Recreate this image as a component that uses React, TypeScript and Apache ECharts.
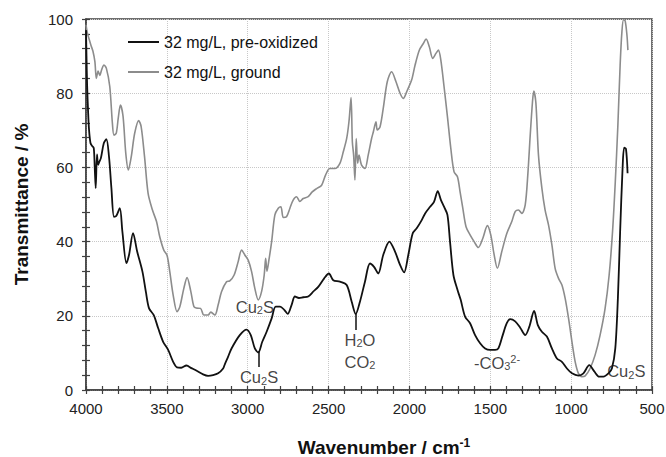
import React, { useEffect, useRef } from "react";
import * as echarts from "echarts";

// Wavenumber tick settings
const xTicks = { min: 500, max: 4000, interval: 500 };
const yTicks = { min: 0, max: 100, interval: 20 };

const seriesNames = ["32 mg/L, pre-oxidized", "32 mg/L, ground"];

// Pre-oxidized (black) spectrum
const blackWn = [4000, 3997, 3993, 3987, 3981, 3972, 3962, 3952, 3946, 3940, 3932, 3925, 3918, 3908, 3890, 3874, 3858, 3843, 3827, 3813, 3791, 3775, 3750, 3734, 3709, 3684, 3651, 3630, 3610, 3581, 3554, 3523, 3492, 3461, 3437, 3411, 3379, 3348, 3313, 3276, 3245, 3214, 3183, 3152, 3141, 3121, 3100, 3049, 3007, 2981, 2956, 2935, 2910, 2883, 2852, 2827, 2800, 2774, 2753, 2729, 2708, 2683, 2657, 2626, 2595, 2564, 2527, 2498, 2471, 2430, 2388, 2357, 2332, 2306, 2275, 2244, 2219, 2193, 2162, 2124, 2089, 2058, 2033, 2007, 1980, 1955, 1924, 1903, 1872, 1848, 1825, 1805, 1786, 1765, 1749, 1728, 1703, 1683, 1656, 1625, 1594, 1563, 1532, 1501, 1470, 1450, 1423, 1398, 1377, 1346, 1315, 1284, 1259, 1229, 1206, 1181, 1150, 1119, 1088, 1057, 1026, 995, 955, 924, 888, 857, 826, 800, 769, 748, 727, 711, 697, 682, 672, 661, 651];
const blackT = [97, 90, 82, 75, 70, 66.5, 65.8, 65.2, 60, 54.4, 63.5, 60.7, 61.5, 62.5, 66.5, 67.6, 63, 54.5, 46.7, 46.9, 49, 42.7, 34.2, 36.4, 42.3, 37.4, 31.9, 26.5, 22, 20.2, 16.7, 13, 10.8, 7.6, 6.1, 6, 6.6, 5.9, 5.1, 4.2, 3.8, 4, 4.5, 5.8, 7, 9, 11.2, 14.8, 16.3, 14.8, 11.2, 10.1, 13, 15.7, 19.3, 22.5, 22.5, 21.6, 20.5, 22.9, 25.2, 24.8, 25, 25.2, 26.5, 27.8, 30.1, 31.4, 29.6, 29.2, 28.3, 23.8, 20.5, 23.8, 29.2, 34.1, 33.2, 31.4, 36.4, 40, 37.3, 33.7, 31.7, 36.4, 42.2, 43.6, 45.8, 47.6, 49.4, 50.7, 53.6, 51.2, 49.4, 47.2, 40, 31, 27, 24.3, 19.8, 18, 14.8, 12.6, 11.2, 10.8, 10.8, 11.2, 14.8, 18, 19.1, 18.5, 16.8, 14.8, 17, 21.3, 17.5, 15.7, 14.4, 11.2, 8.5, 7.6, 5.8, 4.5, 3.9, 4.5, 6.7, 5, 3.6, 3.6, 4.5, 5.8, 11.2, 24.7, 42.7, 59.7, 65.3, 65, 58.4];

// Ground (gray) spectrum
const grayWn = [4000, 3993, 3985, 3970, 3957, 3945, 3936, 3925, 3915, 3902, 3889, 3874, 3853, 3837, 3827, 3813, 3800, 3787, 3771, 3754, 3738, 3720, 3699, 3674, 3659, 3638, 3616, 3589, 3564, 3544, 3519, 3499, 3482, 3461, 3437, 3420, 3395, 3375, 3352, 3333, 3318, 3292, 3271, 3245, 3228, 3203, 3183, 3162, 3131, 3111, 3084, 3059, 3038, 3018, 2997, 2976, 2956, 2935, 2914, 2898, 2889, 2881, 2869, 2852, 2832, 2811, 2795, 2780, 2760, 2739, 2719, 2698, 2677, 2657, 2626, 2601, 2574, 2543, 2518, 2492, 2461, 2430, 2409, 2388, 2374, 2361, 2353, 2345, 2337, 2329, 2320, 2312, 2296, 2275, 2255, 2234, 2223, 2207, 2199, 2182, 2162, 2137, 2110, 2083, 2058, 2038, 2013, 1986, 1965, 1939, 1914, 1897, 1877, 1856, 1835, 1821, 1806, 1786, 1765, 1744, 1724, 1703, 1687, 1670, 1650, 1625, 1600, 1574, 1546, 1518, 1497, 1476, 1456, 1429, 1398, 1367, 1346, 1326, 1305, 1284, 1268, 1253, 1239, 1231, 1218, 1202, 1181, 1161, 1140, 1119, 1099, 1078, 1057, 1037, 1016, 995, 975, 955, 934, 913, 883, 852, 821, 790, 765, 744, 727, 711, 697, 686, 676, 666, 655, 649];
const grayT = [98.5, 96.5, 95.2, 93, 91.3, 88.5, 84, 86, 84.8, 86.5, 87.6, 86.7, 81.8, 72, 68.7, 69.2, 73.5, 76.8, 73.8, 63.8, 59.3, 62.9, 69.2, 72.6, 71, 62.9, 53, 48.5, 45.4, 41.3, 37.7, 36.3, 31.9, 25.6, 21.1, 22.4, 27.4, 30.3, 26.6, 22.5, 22.1, 22, 20.2, 20.2, 21, 20.2, 22.9, 26.5, 29.2, 29.4, 31, 34.6, 37.7, 36.4, 35, 31.9, 27.4, 24.3, 26.6, 31, 35.5, 32, 35, 40, 47.2, 49, 49.4, 46.5, 46.7, 49, 51.2, 52.1, 50.8, 51.6, 52.1, 53.4, 54.3, 55.2, 58, 59.7, 59.7, 61.1, 64.2, 67.8, 72.3, 78.8, 66.9, 63.3, 56.6, 67.8, 61.1, 63.3, 60.6, 59.7, 63.3, 67.8, 69.6, 72.3, 70.1, 70.9, 75.9, 83.1, 85.8, 83.1, 80, 78.6, 80.8, 83.6, 87.6, 91.6, 93.4, 94.6, 92.5, 89.4, 90.8, 91.6, 89, 81.8, 73.7, 65.1, 58.8, 57.5, 53.5, 49, 44, 41.8, 40, 38.4, 40.9, 44.3, 41.8, 36.4, 32.8, 37.3, 42.2, 45.4, 48.1, 48.5, 47.6, 49.9, 58, 68.7, 77.7, 80.6, 77.4, 63.3, 54.4, 48.5, 44.5, 39.1, 32.8, 30.1, 28.3, 24.7, 19.3, 13, 7.6, 4.5, 3.6, 3.8, 5.8, 9.4, 14.8, 22, 31, 42.7, 56.1, 71.4, 87.6, 96.6, 99.8, 99.5, 95.7, 91.6];

// Peak annotations: [wavenumber, transmittance, rich text]
const annotations: [number, number, string][] = [
  [2956, 22.4, "Cu{sub|2}S"],
  [2930, 3.4, "Cu{sub|2}S"],
  [2306, 13.6, "H{sub|2}O"],
  [2306, 7.6, "CO{sub|2}"],
  [1458, 7.4, "-CO{sub|3}{sup|2-}"],
  [659, 5.1, "Cu{sub|2}S"],
];

// Leader lines: [wavenumber, from, to]
const leaders: [number, number, number][] = [
  [2930, 10.5, 6.2],
  [2333, 20.6, 16.2],
];

const FONT = 'Arial, "Liberation Sans", Helvetica, sans-serif';
const AXIS = "#404040";

export default function App() {
  const ref = useRef<HTMLDivElement>(null);
  useEffect(() => {
    if (!ref.current) return;
    const chart = echarts.init(ref.current, undefined, { renderer: "svg" });
    const black = blackWn.map((w, i) => [w, blackT[i]]);
    const gray = grayWn.map((w, i) => [w, grayT[i]]);
    const rich = {
      sub: { fontSize: 11, fontFamily: FONT, color: "#111", verticalAlign: "bottom", lineHeight: 11 },
      sup: { fontSize: 11, fontFamily: FONT, color: "#111", verticalAlign: "top", lineHeight: 11 },
    };
    const baseX = {
      type: "value",
      min: xTicks.min,
      max: xTicks.max,
      interval: xTicks.interval,
      inverse: true,
      position: "bottom",
      gridIndex: 0,
    };
    const baseY = {
      type: "value",
      min: yTicks.min,
      max: yTicks.max,
      interval: yTicks.interval,
      position: "left",
      gridIndex: 0,
    };
    chart.setOption({
      animation: false,
      backgroundColor: "#fff",
      grid: {
        left: 86,
        right: 14,
        top: 19,
        bottom: 67,
        containLabel: false,
        outerBoundsMode: "none",
        show: true,
        borderColor: AXIS,
        borderWidth: 1.5,
        backgroundColor: "transparent",
      },
      legend: {
        data: seriesNames.map((n) => ({ name: n, icon: "rect" })),
        orient: "vertical",
        left: 128,
        top: 34,
        padding: 0,
        itemWidth: 31,
        itemHeight: 2,
        itemGap: 14,
        textStyle: { fontSize: 16, fontFamily: FONT, color: "#111", lineHeight: 16 },
      },
      xAxis: [
        {
          ...baseX,
          name: "Wavenumber / cm{sup|-1}",
          nameLocation: "middle",
          nameGap: 47,
          nameTextStyle: {
            fontSize: 19,
            fontWeight: "bold",
            fontFamily: FONT,
            color: "#111",
            lineHeight: 20,
            padding: [0, 0, 0, 30],
            rich: {
              sup: { fontSize: 12, fontWeight: "bold", fontFamily: FONT, color: "#111", verticalAlign: "top", lineHeight: 12 },
            },
          },
          axisLine: { show: true, onZero: false, lineStyle: { color: AXIS, width: 1.5 } },
          axisTick: { show: true, length: 4, lineStyle: { color: AXIS, width: 1.2 } },
          minorTick: { show: true, splitNumber: 5, length: 4, lineStyle: { color: AXIS, width: 1.2 } },
          axisLabel: { fontSize: 15, fontFamily: FONT, color: "#222", margin: 11, formatter: (v: number) => String(v) },
          splitLine: { show: true, lineStyle: { color: "#c8c8c8", type: "dotted", width: 1 } },
        },
        {
          ...baseX,
          axisLine: { show: false, onZero: false },
          axisTick: { show: true, inside: true, length: 4, lineStyle: { color: AXIS, width: 1.2 } },
          minorTick: { show: true, splitNumber: 5, length: 4, lineStyle: { color: AXIS, width: 1.2 } },
          axisLabel: { show: false },
          splitLine: { show: false },
        },
      ],
      yAxis: [
        {
          ...baseY,
          name: "Transmittance / %",
          nameLocation: "middle",
          nameGap: 55,
          nameTextStyle: { fontSize: 19, fontWeight: "bold", fontFamily: FONT, color: "#111", lineHeight: 20 },
          axisLine: { show: true, onZero: false, lineStyle: { color: AXIS, width: 1.5 } },
          axisTick: { show: true, length: 4, lineStyle: { color: AXIS, width: 1.2 } },
          minorTick: { show: true, splitNumber: 5, length: 4, lineStyle: { color: AXIS, width: 1.2 } },
          axisLabel: { fontSize: 15, fontFamily: FONT, color: "#222", margin: 13, formatter: (v: number) => String(v) },
          splitLine: { show: true, lineStyle: { color: "#c8c8c8", type: "dotted", width: 1 } },
        },
        {
          ...baseY,
          axisLine: { show: false, onZero: false },
          axisTick: { show: true, inside: true, length: 4, lineStyle: { color: AXIS, width: 1.2 } },
          minorTick: { show: true, splitNumber: 5, length: 4, lineStyle: { color: AXIS, width: 1.2 } },
          axisLabel: { show: false },
          splitLine: { show: false },
        },
      ],
      series: [
        {
          name: seriesNames[1],
          type: "line",
          xAxisIndex: 0,
          yAxisIndex: 0,
          data: gray,
          symbol: "none",
          smooth: 0.3,
          lineStyle: { color: "#8c8c8c", width: 1.6 },
          itemStyle: { color: "#8c8c8c" },
          z: 2,
        },
        {
          name: seriesNames[0],
          type: "line",
          xAxisIndex: 0,
          yAxisIndex: 0,
          data: black,
          symbol: "none",
          smooth: 0.3,
          lineStyle: { color: "#111", width: 1.8 },
          itemStyle: { color: "#111" },
          z: 3,
          markLine: {
            silent: true,
            symbol: ["none", "none"],
            label: { show: false },
            lineStyle: { color: "#111", width: 1.5, type: "solid" },
            data: leaders.map(([w, a, b]) => [{ coord: [w, a] }, { coord: [w, b] }]),
          },
        },
        {
          name: "annotations",
          type: "scatter",
          xAxisIndex: 0,
          yAxisIndex: 0,
          symbolSize: 0,
          silent: true,
          z: 4,
          data: annotations.map(([w, t, txt]) => ({
            value: [w, t],
            label: {
              show: true,
              position: "inside",
              formatter: txt,
              fontSize: 16.5,
              fontFamily: FONT,
              color: "#111",
              lineHeight: 18,
              rich,
            },
          })),
        },
      ],
    });
    return () => chart.dispose();
  }, []);
  return (
    <div
      ref={ref}
      style={{ position: "fixed", left: 0, top: 0, width: 666, height: 457, background: "#fff" }}
    />
  );
}
